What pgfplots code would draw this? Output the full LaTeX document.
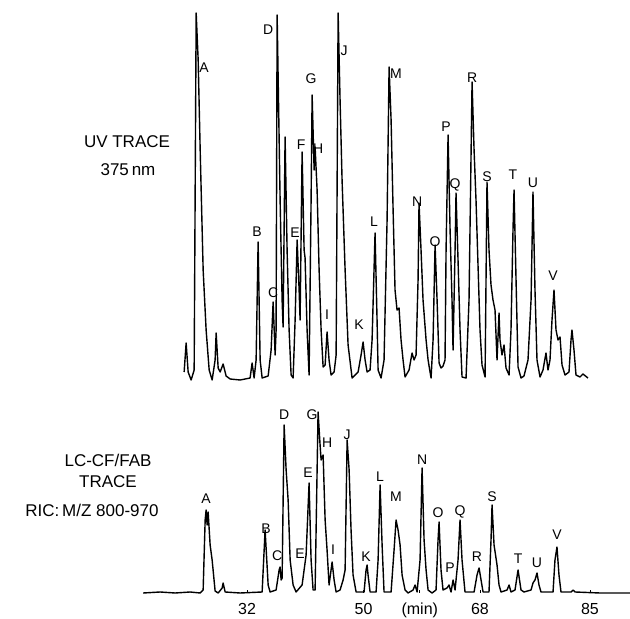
\documentclass[border=0pt]{standalone}
\usepackage{pgfplots}
\pgfplotsset{compat=1.18}
\usepackage{fontspec}
\setmainfont{Liberation Sans}
\begin{document}
\begin{tikzpicture}[x=1pt,y=1pt]
\useasboundingbox (0,0) rectangle (630,619);
% ---------- UV trace ----------
\begin{axis}[at={(143pt,241pt)},anchor=south west,scale only axis,
  width=487pt,height=378pt,xmin=15.9,xmax=91.2,ymin=0,ymax=378,
  axis lines=none,clip=false]
\addplot[black,line width=1.4pt,line join=round] coordinates {
(22.26,6)(22.57,35)(22.88,6)(23.34,-2)(23.81,8)(24.12,365)(24.43,318)(24.74,228)
(25.20,108)(25.66,48)(26.13,8)(26.59,-2)(27.05,18)(27.21,45)(27.52,10)(27.83,6)
(28.29,14)(28.75,2)(29.37,-1)(30.92,-2)(32.46,0)(32.77,15)(33.08,0)(33.39,18)
(33.70,136)(34.01,18)(34.32,0)(35.25,2)(35.71,28)(36.02,76)(36.33,23)(36.48,48)
(36.64,363)(37.10,178)(37.41,78)(37.56,51)(37.87,241)(38.18,128)(38.49,48)(38.80,3)
(39.11,0)(39.42,58)(39.73,138)(40.04,88)(40.19,58)(40.50,226)(40.81,128)(40.96,120)
(41.27,48)(41.58,3)(41.89,178)(42.05,283)(42.36,208)(42.51,231)(42.82,188)(43.13,108)
(43.44,48)(43.75,11)(44.06,13)(44.36,46)(44.67,18)(44.98,3)(45.45,6)(45.76,23)
(46.07,365)(46.37,278)(46.68,198)(47.15,108)(47.61,33)(48.23,0)(49.16,6)(49.62,23)
(49.93,36)(50.24,18)(50.55,6)(51.01,8)(51.32,38)(51.78,145)(52.09,58)(52.25,8)
(52.71,0)(53.17,18)(53.64,158)(53.95,311)(54.26,258)(54.57,168)(54.87,88)(55.18,68)
(55.49,70)(55.80,38)(56.11,18)(56.42,1)(57.04,8)(57.50,25)(57.81,18)(58.12,23)
(58.43,98)(58.58,175)(58.89,128)(59.20,78)(59.67,38)(59.98,18)(60.44,0)(60.75,38)
(61.06,133)(61.37,78)(61.68,15)(61.98,10)(62.29,12)(62.60,18)(62.76,128)(63.07,243)
(63.38,148)(63.68,78)(63.84,28)(64.15,128)(64.30,185)(64.61,118)(64.92,48)(65.23,1)
(65.85,0)(66.31,78)(66.78,296)(67.09,228)(67.39,178)(67.70,113)(68.01,48)(68.32,13)
(68.79,1)(69.09,196)(69.40,128)(69.71,93)(70.02,78)(70.33,68)(70.64,18)(70.95,65)
(71.10,38)(71.41,23)(71.72,33)(72.03,10)(72.50,3)(72.80,48)(73.11,148)(73.27,188)
(73.58,98)(73.89,11)(74.35,0)(74.81,2)(75.43,18)(75.90,78)(76.20,186)(76.51,88)
(76.82,18)(77.29,1)(77.75,8)(78.21,25)(78.52,8)(78.83,18)(79.14,58)(79.45,88)
(79.76,48)(80.07,38)(80.38,41)(80.69,13)(81.15,3)(81.77,6)(82.08,38)(82.23,48)
(82.54,28)(82.85,3)(83.47,1)(83.93,4)(84.70,0)};
\begin{scope}[font=\fontsize{14}{14}\selectfont,inner sep=0pt]
\node at (axis cs:25.35,310) {A};
\node at (axis cs:33.55,146) {B};
\node at (axis cs:36.02,85) {C};
\node at (axis cs:35.25,348) {D};
\node at (axis cs:39.42,145) {E};
\node at (axis cs:40.35,233) {F};
\node at (axis cs:41.89,299) {G};
\node at (axis cs:42.97,229) {H};
\node at (axis cs:44.36,63) {I};
\node at (axis cs:46.99,327) {J};
\node at (axis cs:49.31,53) {K};
\node at (axis cs:51.63,156) {L};
\node at (axis cs:55.03,304) {M};
\node at (axis cs:58.28,176) {N};
\node at (axis cs:61.06,136) {O};
\node at (axis cs:62.76,251) {P};
\node at (axis cs:64.15,193) {Q};
\node at (axis cs:66.78,300) {R};
\node at (axis cs:69.09,201) {S};
\node at (axis cs:73.11,203) {T};
\node at (axis cs:76.20,195) {U};
\node at (axis cs:79.30,102) {V};
\end{scope}
\end{axis}
% ---------- LC-CF/FAB trace ----------
\begin{axis}[at={(143pt,26pt)},anchor=south west,scale only axis,
  width=487pt,height=181pt,xmin=15.9,xmax=91.2,ymin=0,ymax=181,
  axis y line=none,axis x line*=bottom,x axis line style={draw=none},
  xtick={32,50,58.7,68,85},xticklabels={32,50,(min),68,85},
  tick align=inside,major tick length=3pt,tick style={black,line width=0.8pt},
  xticklabel style={font=\fontsize{16}{16}\selectfont,inner sep=0pt,yshift=-10pt},
  clip=false]
\addplot[black,line width=1.4pt,line join=round] coordinates {
(15.93,0)(18.55,1)(20.87,0)(23.19,1)(24.74,0)(25.20,3)(25.51,73)(25.66,83)
(25.82,68)(25.97,81)(26.28,48)(26.59,33)(27.05,2)(27.52,0)(28.14,5)(28.29,10)
(28.60,1)(30.92,0)(34.32,1)(34.78,63)(35.25,8)(35.55,1)(36.48,3)(36.95,23)
(37.10,26)(37.26,13)(37.41,15)(37.72,168)(38.03,123)(38.34,93)(38.65,33)(39.11,8)
(39.57,1)(40.50,8)(40.81,23)(41.12,38)(41.58,110)(41.89,33)(42.20,3)(42.51,3)
(42.97,181)(43.28,148)(43.44,133)(43.75,138)(44.06,73)(44.36,43)(44.67,8)(44.98,23)
(45.14,31)(45.45,13)(45.76,1)(46.37,3)(46.84,13)(47.15,23)(47.46,153)(47.77,123)
(48.07,63)(48.38,18)(48.85,1)(50.08,1)(50.39,23)(50.55,28)(50.70,18)(51.01,1)
(51.94,1)(52.25,33)(52.56,108)(52.87,48)(53.17,1)(54.26,1)(54.72,43)(55.03,73)
(55.34,63)(55.65,48)(55.96,18)(56.42,3)(56.88,0)(57.66,3)(57.97,8)(58.28,1)
(58.74,33)(59.05,125)(59.36,53)(59.67,23)(59.98,3)(60.59,0)(61.21,3)(61.52,53)
(61.68,71)(61.98,23)(62.29,3)(62.91,5)(63.22,8)(63.53,1)(63.84,13)(64.15,3)
(64.61,33)(64.92,73)(65.23,33)(65.69,1)(67.09,1)(67.55,18)(67.86,25)(68.17,13)
(68.48,1)(69.40,1)(69.71,53)(69.87,88)(70.18,48)(70.64,28)(70.95,8)(71.26,1)
(72.19,3)(72.50,8)(72.80,1)(73.42,3)(73.89,23)(74.35,3)(74.81,1)(75.90,3)
(76.20,10)(76.51,13)(76.82,20)(77.13,8)(77.44,1)(79.30,1)(79.60,33)(79.91,46)
(80.22,18)(80.53,1)(82.08,1)(82.39,3)(82.70,1)(86.56,0)(91.20,0)};
\begin{scope}[font=\fontsize{14}{14}\selectfont,inner sep=0pt]
\node at (axis cs:25.66,94) {A};
\node at (axis cs:34.94,64) {B};
\node at (axis cs:36.64,37) {C};
\node at (axis cs:37.72,178) {D};
\node at (axis cs:40.19,39) {E};
\node at (axis cs:41.43,120) {E};
\node at (axis cs:42.05,178) {G};
\node at (axis cs:44.36,150) {H};
\node at (axis cs:45.29,43) {I};
\node at (axis cs:47.46,158) {J};
\node at (axis cs:50.39,36) {K};
\node at (axis cs:52.56,116) {L};
\node at (axis cs:55.03,96) {M};
\node at (axis cs:59.05,133) {N};
\node at (axis cs:61.52,80) {O};
\node at (axis cs:63.38,25) {P};
\node at (axis cs:64.92,81) {Q};
\node at (axis cs:67.55,36) {R};
\node at (axis cs:69.87,96) {S};
\node at (axis cs:73.89,34) {T};
\node at (axis cs:76.82,30) {U};
\node at (axis cs:79.91,58) {V};
\end{scope}
\end{axis}
% ---------- side captions ----------
\begin{scope}[font=\fontsize{17}{17}\selectfont,inner sep=0pt]
\node at (127,477) {UV TRACE};
\node at (128,449) {375\,nm};
\node at (108,159) {LC-CF/FAB};
\node at (108,137) {TRACE};
\node at (92,109) {RIC:\,M/Z 800-970};
\end{scope}
\end{tikzpicture}
\end{document}
